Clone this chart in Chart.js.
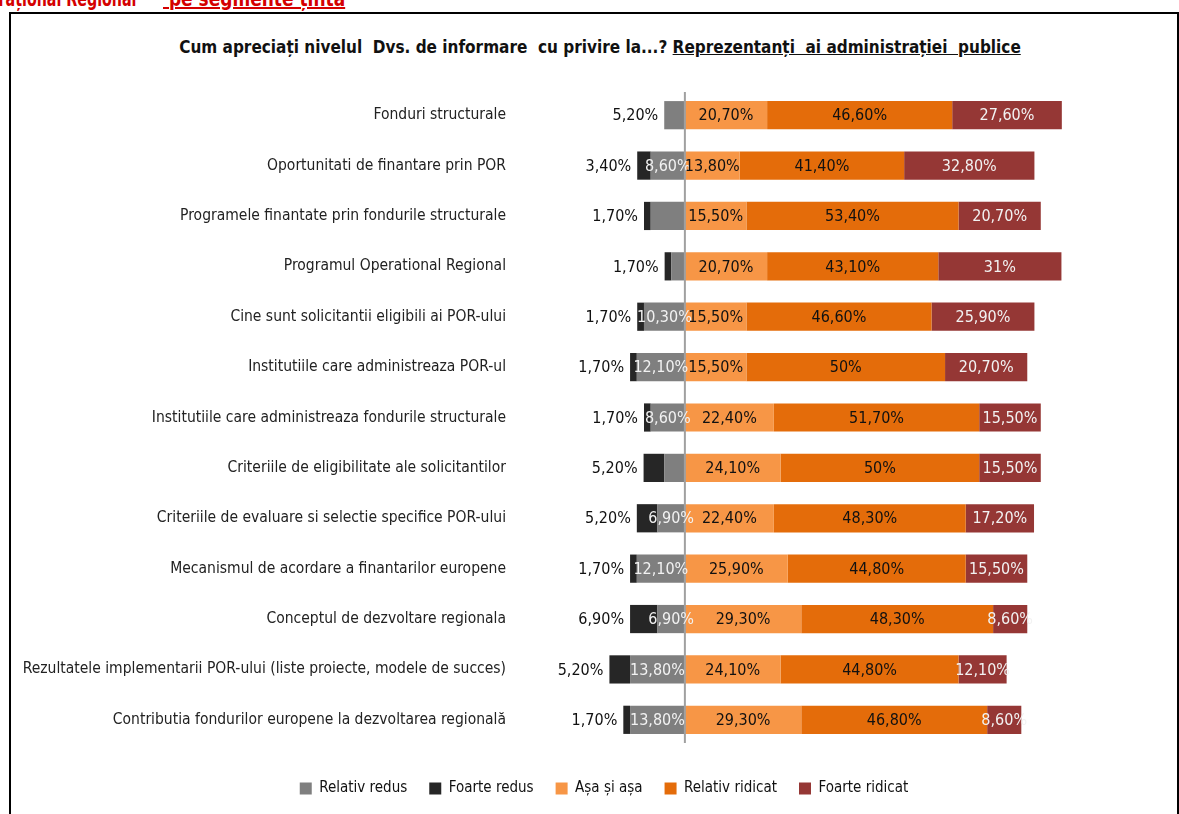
<!DOCTYPE html>
<html>
<head>
<meta charset="utf-8">
<script src="https://cdn.jsdelivr.net/npm/chart.js@4/dist/chart.umd.min.js"></script>
<style>
  html, body { margin: 0; padding: 0; background: #fff; overflow: hidden; }
  body { width: 1179px; height: 814px; position: relative; font-family: 'Liberation Sans Narrow', 'DejaVu Sans Condensed', 'Roboto Condensed', sans-serif; }
  .heading { position: absolute; top: -14px; color: #d40000; font-weight: bold; font-size: 22px; white-space: pre; }
  #h1 { right: 1043px; transform-origin: right top; transform: scaleX(0.72); }
  #h2 { left: 163px; transform-origin: left top; transform: scaleX(0.86); }
  .heading u { text-decoration-thickness: 2px; }
  #frame { position: absolute; left: 9px; top: 12px; width: 1166px; height: 830px; border: 2px solid #000; }
  #title { position: absolute; left: 0; width: 1200px; top: 37px; text-align: center; font-weight: bold; font-size: 17px; color: #111; white-space: pre; }
  #chart { position: absolute; left: 0; top: 0; }
</style>
</head>
<body>
<div class="heading" id="h1">Programul Operațional Regional</div>
<div class="heading" id="h2"><u> pe segmente țintă</u></div>
<div id="frame"></div>
<div id="title">Cum apreciați nivelul  Dvs. de informare  cu privire la...? <u>Reprezentanți  ai administrației  publice</u></div>
<canvas id="chart" width="1208" height="814"></canvas>
<script>
// Date (procente)
const categories = [
  'Fonduri structurale',
  'Oportunitati de finantare prin POR',
  'Programele finantate prin fondurile structurale',
  'Programul Operational Regional',
  'Cine sunt solicitantii eligibili ai POR-ului',
  'Institutiile care administreaza POR-ul',
  'Institutiile care administreaza fondurile structurale',
  'Criteriile de eligibilitate ale solicitantilor',
  'Criteriile de evaluare si selectie specifice POR-ului',
  'Mecanismul de acordare a finantarilor europene',
  'Conceptul de dezvoltare regionala',
  'Rezultatele implementarii POR-ului (liste proiecte, modele de succes)',
  'Contributia fondurilor europene la dezvoltarea regională'
];
const relativRedus   = [5.2, 8.6, 8.6, 3.4, 10.3, 12.1, 8.6, 5.2, 6.9, 12.1, 6.9, 13.8, 13.8];
const foarteRedus    = [0, 3.4, 1.7, 1.7, 1.7, 1.7, 1.7, 5.2, 5.2, 1.7, 6.9, 5.2, 1.7];
const asaSiAsa       = [20.7, 13.8, 15.5, 20.7, 15.5, 15.5, 22.4, 24.1, 22.4, 25.9, 29.3, 24.1, 29.3];
const relativRidicat = [46.6, 41.4, 53.4, 43.1, 46.6, 50, 51.7, 50, 48.3, 44.8, 48.3, 44.8, 46.8];
const foarteRidicat  = [27.6, 32.8, 20.7, 31, 25.9, 20.7, 15.5, 15.5, 17.2, 15.5, 8.6, 12.1, 8.6];
// etichetele "Relativ redus" care apar in interiorul barei
const relRedusLabelShown = [false, true, false, false, true, true, true, false, true, true, true, true, true];

const FONT = "'Liberation Sans Narrow', 'DejaVu Sans Condensed', 'Roboto Condensed', sans-serif";
Chart.defaults.font.family = FONT;

const fmt = v => Number.isInteger(v) ? v + '%' : v.toFixed(2).replace('.', ',') + '%';

const labelsPlugin = {
  id: 'barLabels',
  afterDatasetsDraw(chart) {
    const { ctx, chartArea, scales } = chart;
    // linia de zero, peste bare
    const x0 = scales.x.getPixelForValue(0);
    ctx.save();
    ctx.strokeStyle = '#a0a0a0';
    ctx.lineWidth = 2;
    ctx.beginPath();
    ctx.moveTo(x0, chartArea.top + 2);
    ctx.lineTo(x0, chartArea.bottom - 2);
    ctx.stroke();

    ctx.font = '16px ' + FONT;
    ctx.textBaseline = 'middle';
    const colors = ['#f2f2f2', null, '#111', '#111', '#f2f2f2'];
    chart.data.datasets.forEach((ds, di) => {
      const meta = chart.getDatasetMeta(di);
      meta.data.forEach((bar, i) => {
        const v = Math.abs(ds.data[i]);
        if (di === 1) {
          // eticheta exterioara in stanga barei negative
          const outer = foarteRedus[i] > 0 ? foarteRedus[i] : relativRedus[i];
          const left = scales.x.getPixelForValue(-(foarteRedus[i] + relativRedus[i]));
          ctx.fillStyle = '#111';
          ctx.textAlign = 'right';
          ctx.fillText(fmt(outer), left - 6, bar.y + 1);
          return;
        }
        if (di === 0 && !relRedusLabelShown[i]) return;
        if (!v) return;
        ctx.fillStyle = colors[di];
        ctx.textAlign = 'center';
        ctx.fillText(fmt(v), (bar.x + bar.base) / 2, bar.y + 1);
      });
    });
    ctx.restore();
  }
};

new Chart(document.getElementById('chart'), {
  type: 'bar',
  data: {
    labels: categories,
    datasets: [
      { label: 'Relativ redus', data: relativRedus.map(v => -v), backgroundColor: '#7f7f7f' },
      { label: 'Foarte redus', data: foarteRedus.map(v => -v), backgroundColor: '#262626' },
      { label: 'Așa și așa', data: asaSiAsa, backgroundColor: '#f79646' },
      { label: 'Relativ ridicat', data: relativRidicat, backgroundColor: '#e46c0a' },
      { label: 'Foarte ridicat', data: foarteRidicat, backgroundColor: '#953735' }
    ]
  },
  options: {
    indexAxis: 'y',
    responsive: false,
    animation: false,
    devicePixelRatio: 1,
    layout: { padding: { top: 90, bottom: 8, left: 0, right: 0 } },
    datasets: { bar: { categoryPercentage: 0.56, barPercentage: 1, borderWidth: 0 } },
    scales: {
      x: {
        stacked: true, min: -40, max: 131.7,
        grid: { display: false }, border: { display: false },
        ticks: { display: false },
        afterFit: s => { s.height = 14; }
      },
      y: {
        stacked: true,
        grid: { display: false, drawTicks: false }, border: { display: false },
        ticks: { color: '#222', font: { size: 15.5 }, padding: 20, autoSkip: false },
        afterFit: s => { s.width = 526; }
      }
    },
    plugins: {
      legend: {
        position: 'bottom',
        labels: { boxWidth: 12, boxHeight: 12, padding: 22, color: '#111', font: { size: 15 } }
      },
      tooltip: { enabled: false }
    }
  },
  plugins: [labelsPlugin]
});
</script>
</body>
</html>
